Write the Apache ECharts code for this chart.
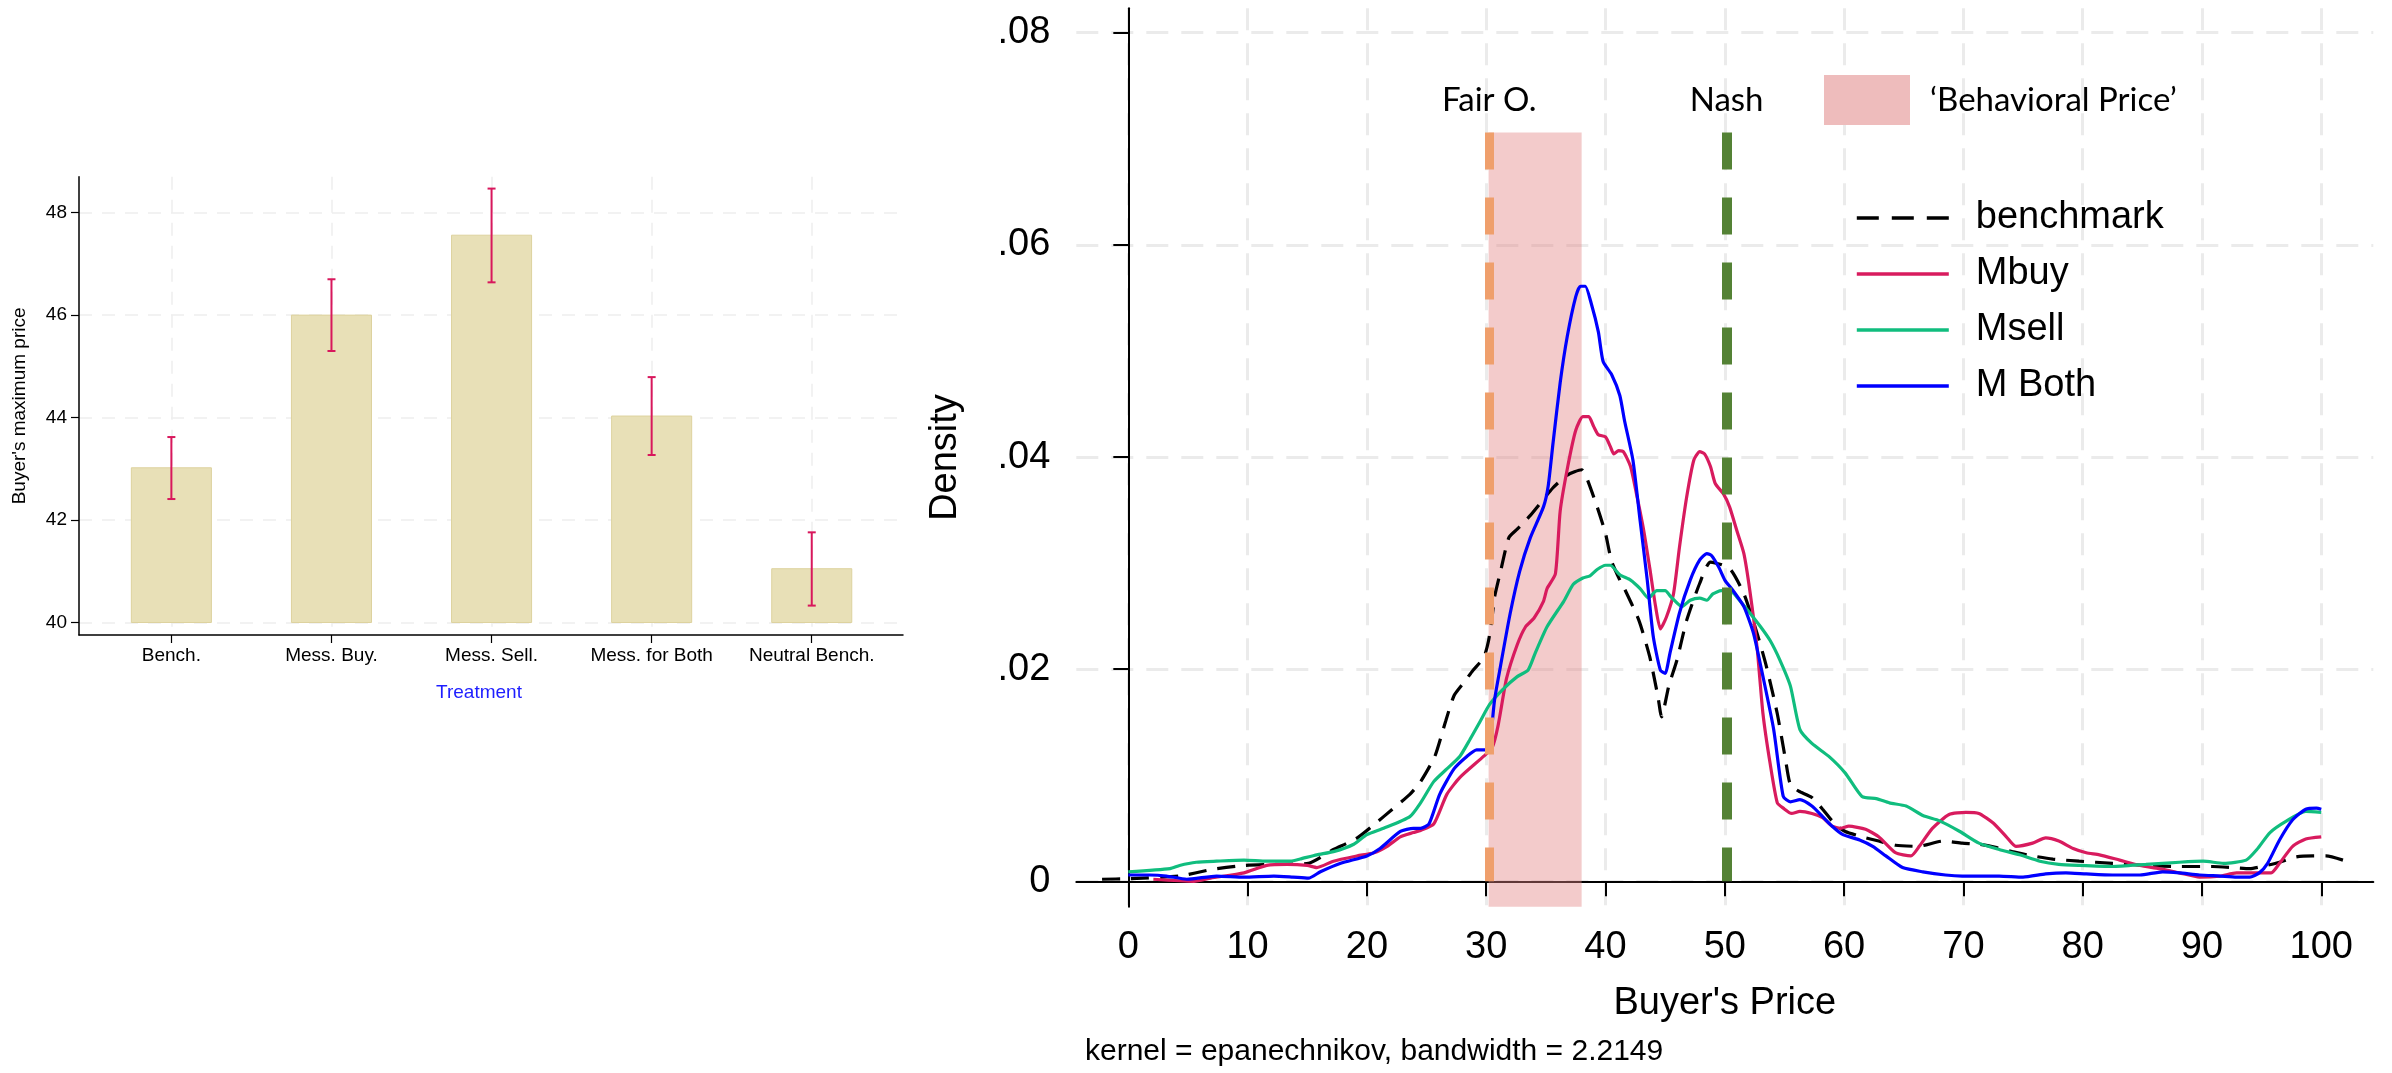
<!DOCTYPE html>
<html>
<head>
<meta charset="utf-8">
<script src="https://cdn.jsdelivr.net/npm/echarts@6/dist/echarts.min.js"></script>
<style>
  html, body { margin: 0; padding: 0; background: #ffffff; }
  #chart { width: 2392px; height: 1073px; }
</style>
</head>
<body>
<div id="chart"></div>
<script>
// ---- Left panel: buyer's maximum price by treatment (mean with CI) ----
const treatments = ['Bench.', 'Mess. Buy.', 'Mess. Sell.', 'Mess. for Both', 'Neutral Bench.'];
const meanPrice = [43.02, 46.0, 47.56, 44.03, 41.05];
const ciLow = [42.41, 45.30, 46.64, 43.27, 40.33];
const ciHigh = [43.62, 46.70, 48.47, 44.79, 41.76];
const priceTicks = [40, 42, 44, 46, 48];

// ---- Right panel: kernel density of the buyer's price ----
const benchmark = [[-2.2,0.0002],[0,0.00025],[4.3,0.0005],[6.9,0.0011],[9.7,0.0015],[12.4,0.0016],[15.1,0.0017],[17.2,0.0030],[19.2,0.0041],[21.4,0.0061],[23.6,0.0082],[24.5,0.0094],[25.7,0.0118],[26.6,0.0151],[27.3,0.0175],[28.1,0.0187],[28.9,0.0199],[29.8,0.0211],[30.2,0.0227],[30.5,0.0250],[30.7,0.0268],[31.2,0.0292],[31.9,0.0324],[32.6,0.0332],[33.7,0.0345],[35.6,0.0371],[36.8,0.0383],[38.0,0.0388],[38.4,0.0381],[39.3,0.0353],[40.0,0.0328],[40.5,0.0302],[41.2,0.0284],[41.5,0.0278],[42.8,0.0246],[43.7,0.0212],[44.4,0.0174],[44.7,0.0155],[45.3,0.0184],[46.0,0.0209],[46.8,0.0246],[47.9,0.0281],[48.8,0.0301],[50.4,0.0295],[51.6,0.0271],[52.7,0.0234],[53.5,0.0202],[54.4,0.0158],[55.1,0.0114],[55.5,0.0091],[56.2,0.0085],[57.3,0.0079],[58.2,0.0068],[59.3,0.0053],[60.1,0.0047],[61.5,0.0042],[62.9,0.0038],[64.3,0.0034],[66.2,0.0033],[68.3,0.0038],[69.9,0.0036],[71.3,0.0035],[72.7,0.0032],[74.1,0.0028],[75.8,0.0024],[77.5,0.0021],[79.7,0.0019],[82.5,0.0017],[85.3,0.0015],[88.1,0.0014],[90.9,0.0014],[92.6,0.0013],[94.0,0.0012],[95.4,0.0015],[96.5,0.0018],[97.9,0.0023],[99.3,0.0024],[100.4,0.0024],[102.1,0.0019]];
const mBuy = [[2.1,0.0002],[5.5,0.0],[6.9,0.0003],[9.7,0.0008],[11.6,0.0015],[13.3,0.0016],[15.0,0.0015],[15.8,0.0013],[17.2,0.0019],[19.2,0.0024],[20.6,0.0027],[21.7,0.0033],[22.8,0.0042],[23.9,0.0046],[24.5,0.0048],[25.6,0.0054],[26.7,0.0082],[27.8,0.0098],[29.8,0.0118],[30.5,0.0126],[31.0,0.0147],[31.7,0.0191],[32.6,0.0223],[33.3,0.0240],[34.0,0.0248],[34.8,0.0264],[35.1,0.0276],[35.8,0.0290],[36.2,0.0349],[36.8,0.0389],[37.5,0.0425],[38.1,0.0438],[38.6,0.0438],[39.0,0.0429],[39.4,0.0421],[40.0,0.0419],[40.4,0.0410],[40.7,0.0403],[41.1,0.0406],[41.5,0.0405],[42.1,0.0391],[42.6,0.0365],[43.2,0.0331],[43.7,0.0296],[44.2,0.0259],[44.6,0.0238],[45.1,0.0249],[45.7,0.0271],[46.2,0.0315],[46.8,0.0362],[47.4,0.0397],[47.9,0.0405],[48.3,0.0403],[48.8,0.0391],[49.2,0.0375],[49.9,0.0365],[50.4,0.0353],[51.0,0.0331],[51.6,0.0309],[52.1,0.0274],[52.7,0.0221],[53.2,0.0158],[53.8,0.0111],[54.4,0.0074],[54.9,0.0069],[55.6,0.0064],[56.3,0.0066],[57.3,0.0064],[58.2,0.0060],[59.0,0.0052],[59.7,0.0050],[60.4,0.0052],[61.8,0.0049],[62.9,0.0042],[64.3,0.0027],[65.6,0.0024],[66.3,0.0033],[67.4,0.0050],[68.8,0.0063],[70.2,0.0065],[71.3,0.0064],[72.5,0.0055],[73.6,0.0042],[74.4,0.0033],[75.8,0.0036],[76.9,0.0041],[78.0,0.0038],[79.2,0.0031],[80.3,0.0027],[81.4,0.0025],[83.1,0.0020],[84.8,0.0015],[86.4,0.0012],[88.1,0.0008],[89.8,0.0004],[91.5,0.0005],[92.9,0.0008],[94.6,0.0008],[95.8,0.0008],[96.5,0.0017],[97.6,0.0033],[98.7,0.0040],[100,0.0042]];
const mSell = [[0,0.0009],[3.5,0.0012],[4.3,0.0015],[5.7,0.0018],[7.4,0.0019],[9.7,0.0020],[11.6,0.0019],[13.6,0.0019],[14.4,0.0021],[15.8,0.0025],[17.2,0.0028],[18.9,0.0035],[20.0,0.0044],[21.4,0.0050],[23.6,0.0061],[24.5,0.0074],[25.6,0.0094],[26.7,0.0106],[27.8,0.0118],[28.6,0.0133],[29.5,0.0151],[30.3,0.0167],[31.4,0.0181],[32.6,0.0193],[33.5,0.0199],[34.1,0.0215],[35.1,0.0240],[36.5,0.0264],[37.3,0.0280],[38.1,0.0286],[38.7,0.0288],[39.3,0.0294],[40.0,0.0298],[40.4,0.0298],[41.2,0.0289],[42.1,0.0284],[42.9,0.0276],[43.6,0.0267],[44.3,0.0274],[45.0,0.0274],[45.5,0.0268],[46.4,0.0259],[47.1,0.0265],[47.9,0.0267],[48.5,0.0265],[49.0,0.0271],[49.7,0.0274],[50.6,0.0273],[51.3,0.0264],[52.1,0.0253],[53.0,0.0240],[53.8,0.0227],[54.6,0.0209],[55.5,0.0184],[56.3,0.0143],[57.3,0.0130],[58.7,0.0118],[60.1,0.0102],[61.5,0.0080],[62.7,0.0078],[63.8,0.0074],[65.2,0.0071],[66.6,0.0062],[68.0,0.0057],[69.7,0.0047],[71.3,0.0036],[73.0,0.0030],[74.7,0.0025],[76.4,0.0019],[78.0,0.0016],[79.7,0.0015],[82.5,0.0014],[85.3,0.0016],[88.1,0.0018],[90.1,0.0019],[91.8,0.0017],[93.7,0.0020],[94.6,0.0030],[95.7,0.0046],[97.1,0.0057],[98.7,0.0066],[100,0.0065]];
const mBoth = [[0,0.0006],[1.8,0.0006],[3.2,0.0005],[4.9,0.0002],[7.4,0.0005],[9.7,0.0004],[12.2,0.0005],[13.8,0.0004],[15.1,0.0003],[16.1,0.0009],[17.8,0.0017],[20.0,0.0024],[21.1,0.0031],[22.8,0.0047],[23.9,0.0050],[24.5,0.0050],[25.2,0.0054],[26.1,0.0082],[27.3,0.0106],[28.4,0.0118],[29.2,0.0124],[29.9,0.0124],[30.3,0.0130],[30.7,0.0171],[31.2,0.0203],[32.0,0.0252],[32.8,0.0292],[33.7,0.0324],[34.8,0.0353],[35.2,0.0373],[35.6,0.0413],[36.2,0.0470],[36.8,0.0514],[37.5,0.0551],[37.9,0.0561],[38.3,0.0561],[38.8,0.0545],[39.4,0.0518],[39.8,0.0490],[40.5,0.0478],[41.2,0.0458],[41.6,0.0434],[42.3,0.0397],[42.9,0.0340],[43.5,0.0284],[44.0,0.0231],[44.6,0.0199],[45.0,0.0196],[45.4,0.0215],[46.2,0.0253],[47.1,0.0284],[47.9,0.0303],[48.5,0.0309],[48.9,0.0307],[49.5,0.0296],[50.0,0.0284],[50.7,0.0274],[51.6,0.0259],[52.4,0.0234],[53.2,0.0193],[54.1,0.0143],[54.9,0.0080],[55.5,0.0075],[56.3,0.0077],[57.3,0.0071],[58.2,0.0061],[59.0,0.0052],[59.9,0.0044],[61.3,0.0039],[62.4,0.0033],[63.5,0.0024],[64.9,0.0013],[66.6,0.0009],[68.5,0.0006],[69.9,0.0005],[71.3,0.0005],[73.0,0.0005],[75.0,0.0004],[76.9,0.0007],[78.6,0.0008],[80.3,0.0007],[82.5,0.0006],[84.8,0.0006],[86.7,0.0009],[88.1,0.0008],[89.8,0.0006],[91.5,0.0005],[92.9,0.0004],[94.0,0.0004],[94.8,0.0008],[95.5,0.0017],[96.5,0.0039],[97.6,0.0058],[98.7,0.0068],[99.6,0.0069],[100,0.0068]];
const densityTicks = [0, 0.02, 0.04, 0.06, 0.08];
const buyerPriceTicks = [0, 10, 20, 30, 40, 50, 60, 70, 80, 90, 100];

// Reference prices and the behavioural price band
const fairOffer = 30.25;
const nashPrice = 50.15;
const behavioralRange = [30.2, 38];
const markerTop = 0.0706;

// Axis extents
const leftX = [0.423, 5.57];
const leftY = [39.756, 48.70];
const rightX = [-4.36, 104.36];
const rightY = [-0.00239, 0.0823];

const FONT = 'Liberation Sans';
const NOTE_FONT = 'Lato';

const chart = echarts.init(document.getElementById('chart'), null, { renderer: 'canvas' });

const barColor = '#e8e0b7';
const ciColor = '#d8175c';
const curveWidth = 3.2;

const densityLine = (name, data, color, type) => ({
  name, type: 'line', data, xAxisIndex: 1, yAxisIndex: 1,
  showSymbol: false, symbol: 'none', smooth: 0.2, z: 3,
  color,
  lineStyle: { color, width: curveWidth, type: type || 'solid' },
  emphasis: { disabled: true }
});

const legendLine = (name, type) => ({ name, lineStyle: { width: 3.6, type: type || 'solid' } });

const option = {
  animation: false,
  backgroundColor: '#ffffff',
  textStyle: { fontFamily: FONT },
  title: {
    text: 'kernel = epanechnikov, bandwidth = 2.2149',
    left: 1080, top: 1032,
    textStyle: { fontFamily: FONT, fontSize: 30, fontWeight: 'normal', color: '#000' }
  },
  legend: [
    {
      data: [legendLine('benchmark', [22, 13]), legendLine('Mbuy'), legendLine('Msell'), legendLine('M Both')],
      orient: 'vertical', left: 1855, top: 198, padding: 0,
      itemWidth: 92, itemHeight: 14, itemGap: 16,
      selectedMode: false,
      itemStyle: { opacity: 0 },
      textStyle: { fontFamily: FONT, fontSize: 38, color: '#000', lineHeight: 40, padding: [0, 0, 0, 22] }
    },
    {
      data: [{ name: '‘Behavioral Price’', icon: 'rect' }],
      left: 1824, top: 75, padding: 0,
      itemWidth: 86, itemHeight: 50,
      selectedMode: false,
      textStyle: { fontFamily: NOTE_FONT, fontSize: 33, color: '#000', padding: [0, 0, 0, 15] }
    }
  ],
  grid: [
    { left: 79, top: 176.8, width: 824, height: 458.2 },
    { left: 1076.3, top: 8.3, width: 1297, height: 898.4 }
  ],
  xAxis: [
    {
      type: 'value', gridIndex: 0, min: leftX[0], max: leftX[1],
      name: 'Treatment', nameLocation: 'middle', nameGap: 48,
      nameTextStyle: { color: '#1e1eff', fontSize: 19, fontFamily: FONT, padding: [0, 24, 0, 0] },
      axisLine: { lineStyle: { color: '#000', width: 1.5 } },
      axisTick: { customValues: [1, 2, 3, 4, 5], length: 8, lineStyle: { color: '#000', width: 1.2 } },
      axisLabel: {
        customValues: [1, 2, 3, 4, 5], margin: 11, color: '#000', fontSize: 19, fontFamily: FONT,
        formatter: v => treatments[Math.round(v) - 1]
      },
      splitLine: { show: true, lineStyle: { color: '#eeeeee', width: 1.5, type: [13, 10] } }
    },
    {
      type: 'value', gridIndex: 1, min: rightX[0], max: rightX[1],
      name: "Buyer's Price", nameLocation: 'middle', nameGap: 78,
      nameTextStyle: { color: '#000', fontSize: 38, fontFamily: FONT },
      axisLine: { lineStyle: { color: '#000', width: 2 } },
      axisTick: { customValues: buyerPriceTicks, length: 15, lineStyle: { color: '#000', width: 2 } },
      axisLabel: { customValues: buyerPriceTicks, margin: 22, color: '#000', fontSize: 38, fontFamily: FONT },
      splitLine: { show: true, lineStyle: { color: '#ebebeb', width: 3, type: [22, 13] } }
    }
  ],
  yAxis: [
    {
      type: 'value', gridIndex: 0, min: leftY[0], max: leftY[1],
      name: "Buyer's maximum price", nameLocation: 'middle', nameGap: 50,
      nameTextStyle: { color: '#000', fontSize: 19, fontFamily: FONT },
      axisLine: { show: true, lineStyle: { color: '#000', width: 1.5 } },
      axisTick: { show: true, customValues: priceTicks, length: 8, lineStyle: { color: '#000', width: 1.2 } },
      axisLabel: { customValues: priceTicks, margin: 12, color: '#000', fontSize: 19, fontFamily: FONT },
      splitLine: { show: true, lineStyle: { color: '#eeeeee', width: 1.5, type: [13, 10] } }
    },
    {
      type: 'value', gridIndex: 1, min: rightY[0], max: rightY[1],
      name: 'Density', nameLocation: 'middle', nameGap: 112,
      nameTextStyle: { color: '#000', fontSize: 38, fontFamily: FONT },
      axisLine: { show: true, lineStyle: { color: '#000', width: 2 } },
      axisTick: { show: true, customValues: densityTicks, length: 15, lineStyle: { color: '#000', width: 2 } },
      axisLabel: {
        customValues: densityTicks, margin: 26, color: '#000', fontSize: 38, fontFamily: FONT,
        formatter: v => (Math.abs(v) < 1e-9 ? '0' : String(+v.toFixed(2)).replace(/^0/, ''))
      },
      splitLine: { show: true, lineStyle: { color: '#ebebeb', width: 3, type: [22, 13] } }
    }
  ],
  series: [
    // Bars start at the lowest labelled price
    {
      name: 'mean', type: 'custom', xAxisIndex: 0, yAxisIndex: 0, z: 2,
      data: meanPrice.map((v, i) => [i + 1, v]),
      renderItem: (params, api) => {
        const x = api.value(0), v = api.value(1);
        const top = api.coord([x, v]);
        const base = api.coord([x, priceTicks[0]]);
        const w = api.size([0.5, 0])[0];
        return {
          type: 'rect',
          shape: { x: top[0] - w / 2, y: top[1], width: w, height: base[1] - top[1] },
          style: { fill: barColor, stroke: '#ddd29e', lineWidth: 1 }
        };
      }
    },
    // Confidence intervals
    {
      name: 'ci', type: 'custom', xAxisIndex: 0, yAxisIndex: 0, z: 3,
      data: ciLow.map((lo, i) => [i + 1, lo, ciHigh[i]]),
      renderItem: (params, api) => {
        const x = api.value(0);
        const p1 = api.coord([x, api.value(1)]);
        const p2 = api.coord([x, api.value(2)]);
        const cap = 4;
        const style = { stroke: ciColor, lineWidth: 2 };
        return {
          type: 'group',
          children: [
            { type: 'line', shape: { x1: p1[0], y1: p1[1], x2: p2[0], y2: p2[1] }, style },
            { type: 'line', shape: { x1: p1[0] - cap, y1: p1[1], x2: p1[0] + cap, y2: p1[1] }, style },
            { type: 'line', shape: { x1: p2[0] - cap, y1: p2[1], x2: p2[0] + cap, y2: p2[1] }, style }
          ]
        };
      }
    },
    // Behavioural price band
    {
      name: '‘Behavioral Price’', type: 'line', xAxisIndex: 1, yAxisIndex: 1, data: [],
      color: 'rgba(226,132,132,0.45)', z: 1,
      itemStyle: { color: '#eebcbc' },
      markArea: {
        silent: true,
        itemStyle: { color: 'rgba(226,132,132,0.42)' },
        data: [[{ xAxis: behavioralRange[0], yAxis: rightY[0] }, { xAxis: behavioralRange[1], yAxis: markerTop }]]
      }
    },
    densityLine('benchmark', benchmark, '#000000', [18, 11]),
    densityLine('Mbuy', mBuy, '#d81b5e'),
    densityLine('Msell', mSell, '#10bd7e'),
    densityLine('M Both', mBoth, '#0000ff'),
    // Fair offer and Nash reference lines
    {
      name: 'refs', type: 'line', xAxisIndex: 1, yAxisIndex: 1, data: [], z: 4,
      markLine: {
        silent: true, symbol: 'none',
        data: [
          [
            { coord: [fairOffer, markerTop], lineStyle: { color: '#ef9f6c', width: 9, type: [37, 28] },
              label: { show: true, position: 'start', formatter: 'Fair O.', distance: 16,
                       fontFamily: NOTE_FONT, fontSize: 33, color: '#000' } },
            { coord: [fairOffer, 0] }
          ],
          [
            { coord: [nashPrice, markerTop], lineStyle: { color: '#548235', width: 10, type: [37, 28] },
              label: { show: true, position: 'start', formatter: 'Nash', distance: 16,
                       fontFamily: NOTE_FONT, fontSize: 33, color: '#000' } },
            { coord: [nashPrice, 0] }
          ]
        ]
      }
    }
  ]
};

chart.setOption(option);
</script>
</body>
</html>
